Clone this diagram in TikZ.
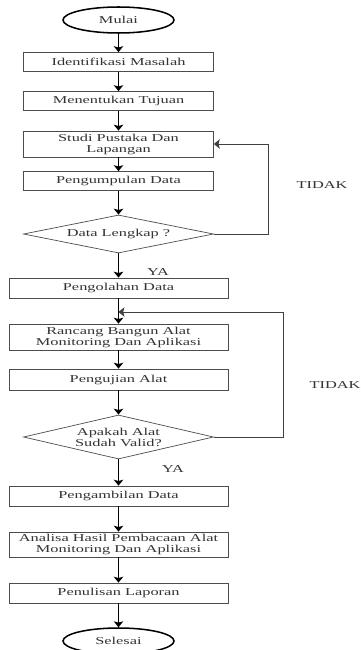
\documentclass[tikz,border=0pt]{standalone}
\usepackage{fontspec}
\setmainfont{Liberation Serif}[FakeStretch=1.55]
\usetikzlibrary{shapes.geometric,arrows.meta}

\begin{document}
\begin{tikzpicture}[x=0.03cm, y=-0.03cm,
    >={Stealth[length=5pt, width=8pt, inset=1pt]},
    kotak/.style={draw=black!70, line width=0.6pt, inner sep=1pt, align=center, minimum width=5.7cm},
    ujung/.style={draw, ellipse, line width=1.3pt, minimum width=3.33cm, minimum height=0.78cm},
    pilihan/.style={draw=black!70, diamond, line width=0.6pt, inner sep=0pt, align=center, minimum width=5.7cm},
    panah/.style={->, line width=1pt},
    balik/.style={->, line width=0.8pt, draw=black!75},
    every node/.style={font=\fontsize{9}{9.4}\selectfont, text=black!80}]
    \useasboundingbox (0,0) rectangle (360,650);
    \clip (0,0) rectangle (360,650);

    % Mulai
    \node[ujung] (mulai) at (118.5,20) {Mulai};

    % Tahap awal
    \foreach \y/\h/\nama/\teks in {62/19/identifikasi/Identifikasi Masalah, 101/19/tujuan/Menentukan Tujuan,
        144/26/studi/{Studi Pustaka Dan\\Lapangan}, 181/19/kumpul/Pengumpulan Data} {
      \node[kotak, minimum height=\h*0.03cm] (\nama) at (118.5,\y) {\teks};
    }
    \node[pilihan, aspect=5, minimum height=1.14cm] (lengkap) at (118.5,234) {Data Lengkap ?};

    % Tahap alat
    \foreach \y/\h/\nama/\teks in {288/20/olah/Pengolahan Data, 337/26/rancang/{Rancang Bangun Alat\\Monitoring Dan Aplikasi},
        379.5/21/uji/Pengujian Alat} {
      \node[kotak, minimum width=6.57cm, minimum height=\h*0.03cm] (\nama) at (118.5,\y) {\teks};
    }
    \node[pilihan, aspect=4.3, minimum height=1.32cm] (valid) at (118.5,437) {Apakah Alat\\Sudah Valid?};

    % Tahap akhir
    \foreach \y/\h/\nama/\teks in {496/20/ambil/Pengambilan Data, 544.5/25/analisa/{Analisa Hasil Pembacaan Alat\\Monitoring Dan Aplikasi},
        593/20/tulis/Penulisan Laporan} {
      \node[kotak, minimum width=6.57cm, minimum height=\h*0.03cm] (\nama) at (118.5,\y) {\teks};
    }
    \node[ujung] (selesai) at (118.5,641) {Selesai};

    % Panah utama
    \foreach \a/\b in {mulai/identifikasi, identifikasi/tujuan, tujuan/studi, studi/kumpul, kumpul/lengkap,
        lengkap/olah, olah/rancang, rancang/uji, uji/valid, valid/ambil, ambil/analisa, analisa/tulis, tulis/selesai} {
      \draw[panah] (\a.south) -- (\b.north);
    }

    % Panah kembali
    \coordinate (k1) at (268,0);
    \coordinate (k2) at (283,0);
    \coordinate (m2) at (118.5,312);
    \draw[balik] (lengkap.east) -- (lengkap.east -| k1) |- (studi.east);
    \draw[balik] (valid.east) -- (valid.east -| k2) |- (m2);

    % Keterangan
    \node (tidak1) at (322,185) {TIDAK};
    \node (tidak2) at (335,385) {TIDAK};
    \node (ya1) at (158,272) {YA};
    \node (ya2) at (173,469) {YA};
\end{tikzpicture}
\end{document}
